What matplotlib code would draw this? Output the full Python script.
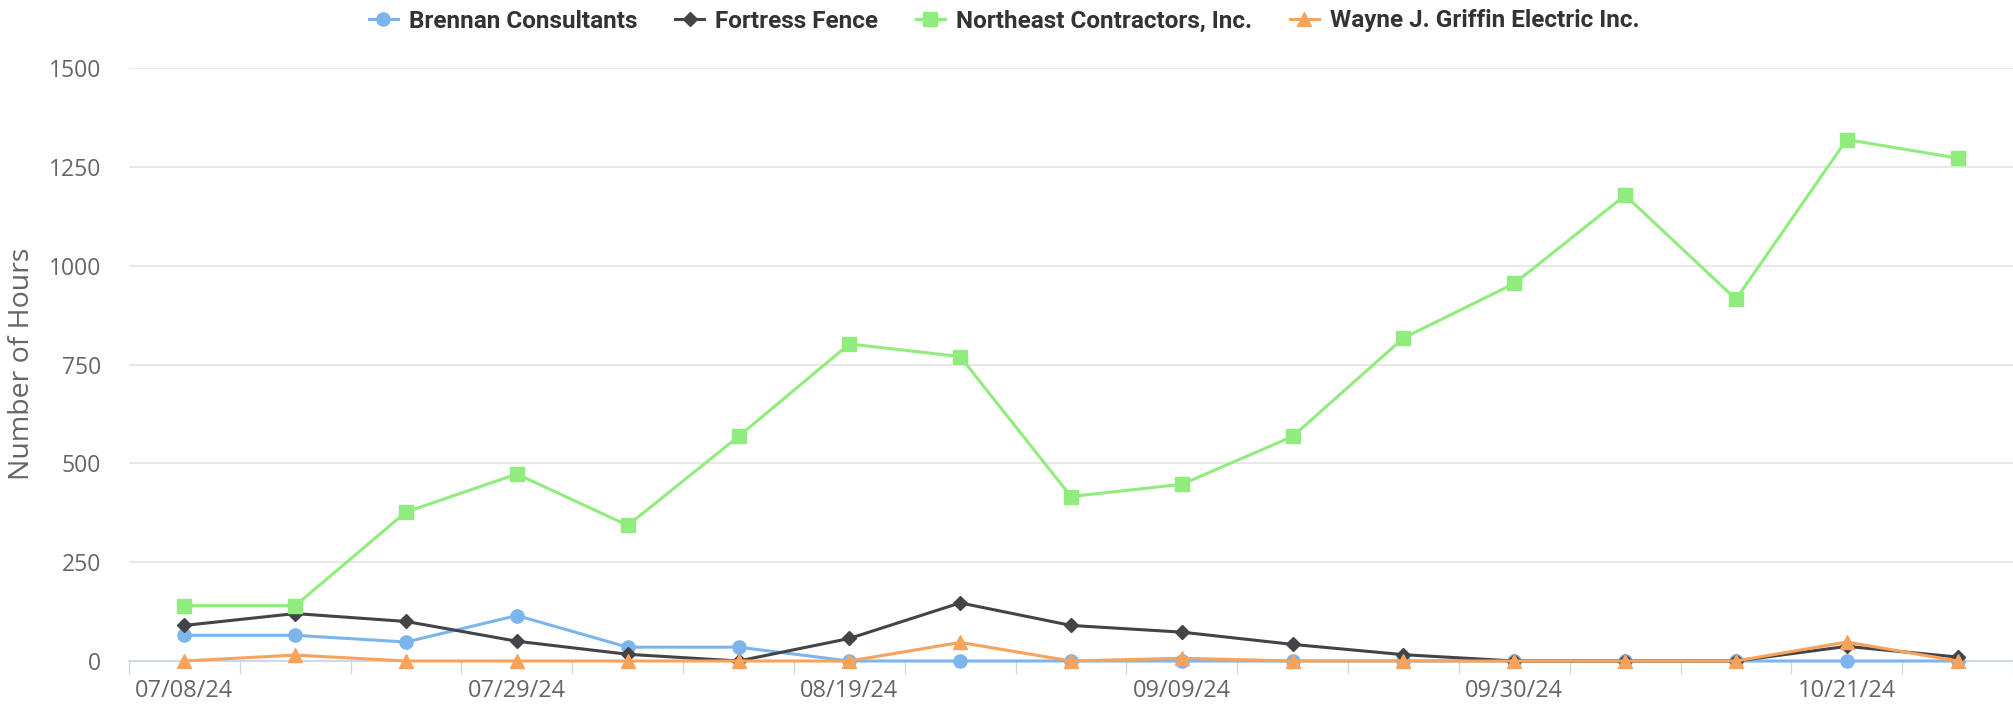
import matplotlib
matplotlib.use("Agg")
import matplotlib.pyplot as plt
import numpy as np

# weekly hours by contractor
weeks = ["07/08/24", "07/15/24", "07/22/24", "07/29/24", "08/05/24", "08/12/24",
         "08/19/24", "08/26/24", "09/02/24", "09/09/24", "09/16/24", "09/23/24",
         "09/30/24", "10/07/24", "10/14/24", "10/21/24", "10/28/24"]
brennan = [65, 65, 48, 115, 35, 35, 0, 0, 0, 0, 0, 0, 0, 0, 0, 0, 0]
fortress = [90, 120, 100, 50, 17, 0, 57, 147, 90, 73, 42, 16, 0, 0, 0, 37, 10]
northeast = [140, 140, 377, 473, 343, 568, 802, 770, 416, 447, 568, 817, 955, 1178, 915, 1319, 1272]
wayne = [0, 15, 0, 0, 0, 0, 0, 47, 0, 7, 0, 0, 0, 0, 0, 48, 0]

names = ["Brennan Consultants", "Fortress Fence", "Northeast Contractors, Inc.",
         "Wayne J. Griffin Electric Inc."]
colors = ["#7cb5ec", "#434348", "#90ed7d", "#f7a35c"]
markers = ["o", "D", "s", "^"]
msizes = [9.5, 7.5, 9.5, 10]

plt.rcParams["font.family"] = ["Open Sans", "DejaVu Sans"]

W, H = 2013, 709
fig = plt.figure(figsize=(W / 100, H / 100), dpi=100)
ax = fig.add_axes([129 / W, 1 - 661 / H, (W - 129) / W, (661 - 68) / H])

x = np.arange(len(weeks))
handles = []
for i, (vals, name) in enumerate(zip([brennan, fortress, northeast, wayne], names)):
    h, = ax.plot(x, vals, color=colors[i], marker=markers[i], markersize=msizes[i],
                 linewidth=2.2, label=name, clip_on=False, zorder=3 + i)
    handles.append(h)

ax.set_xlim(-0.5, len(weeks) - 0.5)
ax.set_ylim(0, 1500)
ax.set_yticks(np.arange(0, 1501, 250))
ax.set_xticks(x[::3])
ax.set_xticklabels(weeks[::3])
ax.set_xticks(np.arange(-0.5, len(weeks)), minor=True)

ax.grid(axis="y", color="#e6e6e6", linewidth=1.3, zorder=0)
ax.set_axisbelow(True)
for s in ["left", "right", "top"]:
    ax.spines[s].set_visible(False)
ax.spines["bottom"].set_color("#ccd6eb")
ax.spines["bottom"].set_linewidth(1.3)

ax.tick_params(axis="y", length=0, pad=20, labelsize=16.5, labelcolor="#666666")
ax.tick_params(axis="x", which="major", length=0, pad=13, labelsize=17, labelcolor="#666666")
ax.tick_params(axis="x", which="minor", length=9.5, width=0.95, color="#ccd6eb")

fig.text(22 / W, 1 - 364 / H, "Number of Hours", rotation=90, ha="center", va="center",
         fontsize=20.5, color="#666666")

leg = fig.legend(handles, names, loc="center", bbox_to_anchor=(1004 / W, 1 - 21 / H),
                 ncol=4, frameon=False, handlelength=1.2, handletextpad=0.45,
                 columnspacing=1.55,
                 prop={"family": ["Roboto", "DejaVu Sans"], "weight": "bold", "size": 17.5})
for t in leg.get_texts():
    t.set_color("#333333")

fig.savefig("out.png", dpi=100)
